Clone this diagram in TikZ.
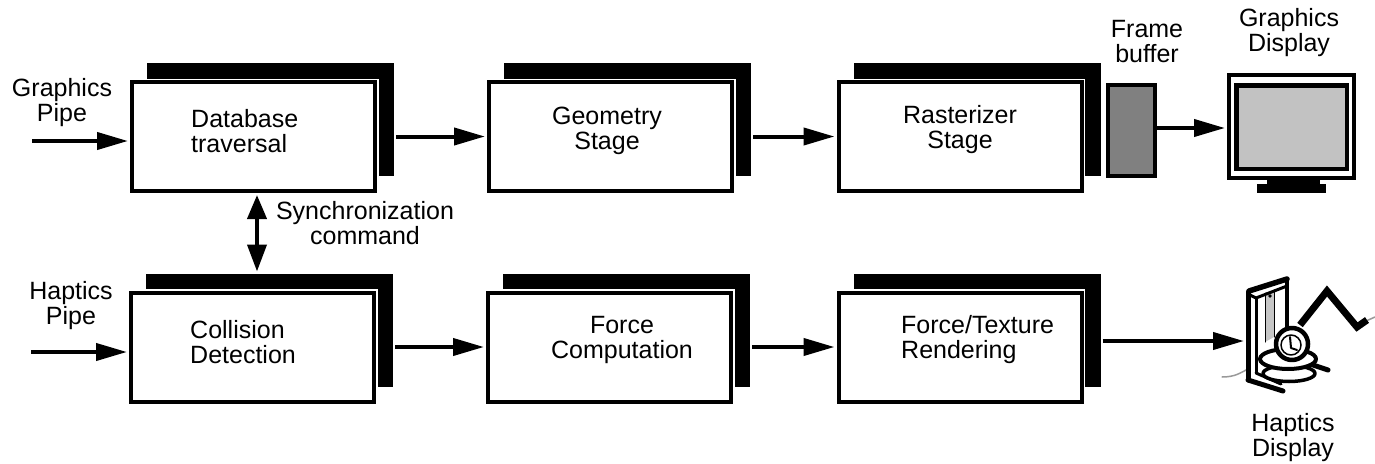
\documentclass[tikz,border=0pt]{standalone}
\usepackage{fontspec}
\setmainfont{Liberation Sans}
\usetikzlibrary{arrows.meta,shadows}

\definecolor{fbgray}{gray}{0.5}
\definecolor{scrgray}{gray}{0.76}
\definecolor{cablegray}{gray}{0.6}

\begin{document}
\begin{tikzpicture}[x=1pt,y=-1pt,
  lbl/.style={font=\fontsize{25}{25}\selectfont, inner sep=0pt, align=center},
  lbll/.style={lbl, align=left, anchor=west},
  stagebox/.style={draw=black, line width=4pt, fill=white,
    minimum width=243pt, minimum height=109pt, inner sep=0pt,
    copy shadow={shadow xshift=17pt, shadow yshift=17pt, draw=black, fill=black, line width=4pt},
    preaction={draw=white, line width=7pt}},
  flow/.style={line width=4pt, -{Triangle[length=31pt,width=17pt]}, shorten >=2pt},
]
\useasboundingbox (0,0) rectangle (1375,463);

% pipeline stages
\node[stagebox] (db)  at (253.5,136.5) {};
\node[stagebox] (geo) at (610.5,136.5) {};
\node[stagebox] (ras) at (960,136.5) {};
\node[stagebox] (col) at (252.5,347) {};
\node[stagebox] (frc) at (609.5,347) {};
\node[stagebox] (ftr) at (960,347) {};

% stage texts
\node[lbll] (db-t)  at (191,131.4) {Database\\traversal};
\node[lbl]  (geo-t) at (607,130.5) {Geometry\\Stage};
\node[lbl]  (ras-t) at (960,130) {Rasterizer\\Stage};
\node[lbll] (col-t) at (190,341.7) {Collision\\Detection};
\node[lbl]  (frc-t) at (622,340.2) {Force\\Computation};
\node[lbll] (ftr-t) at (901,339.7) {Force/Texture\\Rendering};

% free labels
\node[lbl] (gpipe) at (62,103) {Graphics\\Pipe};
\node[lbl] (hpipe) at (71,306) {Haptics\\Pipe};
\node[lbl] (sync)  at (365,223) {Synchronization\\command};
\node[lbl] (fbl)   at (1147,41.2) {Frame\\buffer};
\node[lbl] (gdl)   at (1289,32.7) {Graphics\\Display};
\node[lbl] (hdl)   at (1293,437.2) {Haptics\\Display};

% frame buffer
\node[draw, line width=4pt, fill=fbgray, minimum width=47pt, minimum height=91pt, inner sep=0pt] (fb) at (1131.5,130.5) {};

% graphics display (monitor)
\node[draw, line width=4pt, fill=white, minimum width=125pt, minimum height=103pt, inner sep=0pt] (mon) at (1291.5,126.5) {};
\node[draw, line width=4.5pt, fill=scrgray, minimum width=110.5pt, minimum height=83.5pt, inner sep=0pt] (scr) at (1291.5,127) {};
\fill (1266.7,180) rectangle (1320,184);
\fill (1256.7,183.5) rectangle (1326,192.7);

% haptic display device
\coordinate (hap) at (1244,341);
\begin{scope}[line width=4pt, line cap=round, line join=round]
  % cables
  \draw[cablegray, line width=1.5pt] (1222,377) .. controls (1235,377) and (1240,373) .. (1248,369);
  \draw[cablegray, line width=1.5pt] (1366,321) -- (1375,317);
  % upright frame
  \fill[gray!45] (1265,293) -- (1274,290) -- (1274,337) -- (1265,342) -- cycle;
  \draw[line width=1pt] (1265,293) -- (1265,342) (1274,290) -- (1274,337);
  \draw[line width=5pt] (1248.5,380) -- (1248.5,292);
  \draw[line width=5.5pt] (1249,291) -- (1287,279);
  \draw[line width=4.5pt] (1287,279) -- (1287,335);
  \draw[line width=3pt] (1250,295) -- (1256,298) -- (1287,286);
  \draw[line width=3pt] (1256,298) -- (1256,373);
  \draw[line width=5pt] (1248,380) -- (1283,391);
  \draw[line width=3pt] (1256,373) -- (1281,384);
  \fill (1270,296) circle (1.8pt);
  % linkage arm
  \draw[line width=7pt, line cap=butt, line join=miter] (1300,325) -- (1327,291) -- (1357,327) -- (1367,320);
  % stylus
  \draw[line width=5pt] (1310,364) -- (1328,370);
  % base rings and gimbal sphere
  \draw[line width=3.5pt, fill=white] (1289,373.5) ellipse (26pt and 8pt);
  \draw[line width=4pt, fill=white] (1288,359) ellipse (28pt and 10pt);
  \draw[line width=4.5pt, fill=white] (1292,344) circle (16pt);
  \draw[line width=1.5pt] (1291,345) circle (10pt);
  \draw[line width=2pt] (1290,337) -- (1291,348) -- (1297,350);
\end{scope}

% inputs
\coordinate (gin) at (32,141);
\coordinate (hin) at (31,352);
\draw[flow] (gin) -- (gin -| db.west);
\draw[flow] (hin) -- (hin -| col.west);

% stage to stage
\draw[flow] ([xshift=19pt]db.east) -- (geo.west);
\draw[flow] ([xshift=19pt]geo.east) -- (ras.west);
\draw[flow] ([xshift=19pt]col.east) -- (frc.west);
\draw[flow] ([xshift=19pt]frc.east) -- (ftr.west);

% to the displays
\coordinate (fbo) at ([yshift=2.5pt]fb.east);
\draw[flow] (fbo) -- (fbo -| mon.west);
\coordinate (ftro) at ([xshift=19pt,yshift=6pt]ftr.east);
\draw[flow, shorten >=0pt] (ftro) -- (ftro -| hap);

% synchronization between the two pipes
\draw[line width=4pt, {Triangle[length=24pt,width=19pt]}-{Triangle[length=27pt,width=19pt]}, shorten <=2pt]
  ([xshift=3.5pt]db.south) -- ([xshift=4.5pt,yshift=19pt]col.north);
\end{tikzpicture}
\end{document}
